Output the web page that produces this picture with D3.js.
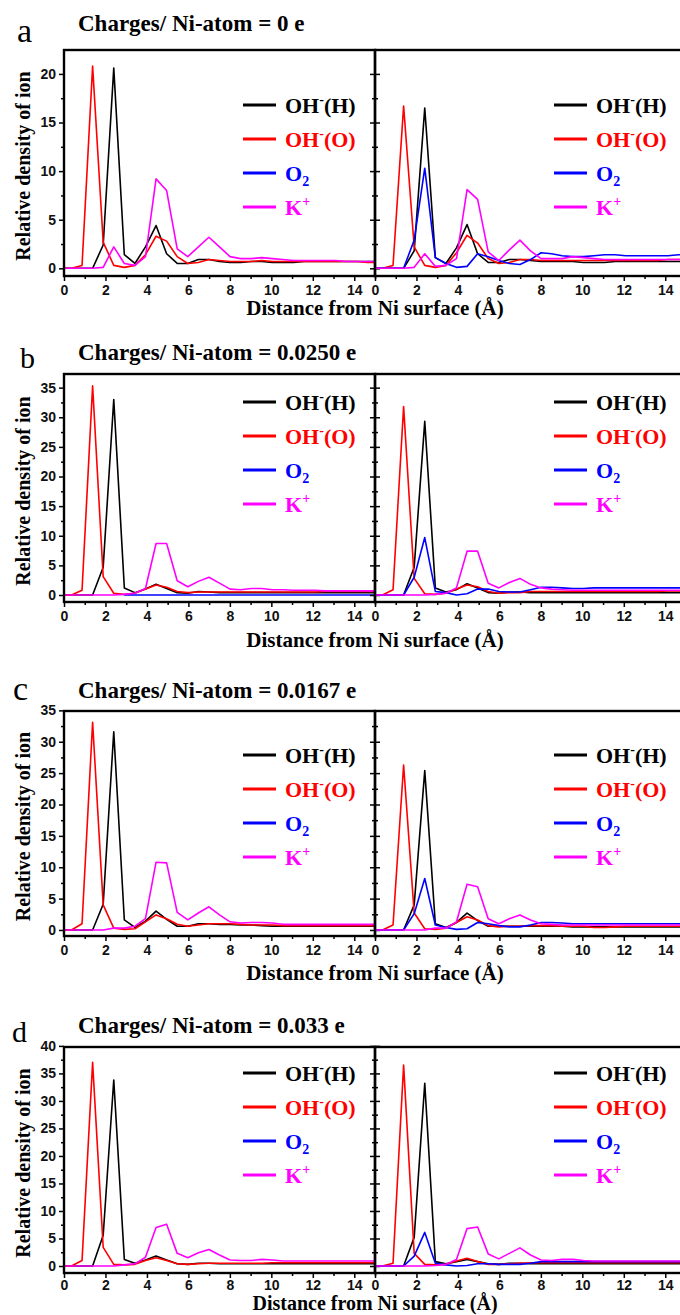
<!DOCTYPE html>
<html>
<head>
<meta charset="utf-8">
<script src="https://cdn.jsdelivr.net/npm/d3@7"></script>
<style>
  body { margin: 0; background: #fff; }
  svg { display: block; }
</style>
</head>
<body>
<svg id="chart" width="680" height="1315"></svg>
<script>
// distance from Ni surface (Å), sample positions of the density profiles
const distance = [0, 0.36, 0.87, 1.38, 1.89, 2.40, 2.91, 3.42, 3.93, 4.44, 4.95, 5.46, 5.97, 6.48, 6.99, 7.50,
  8.01, 8.52, 9.03, 9.54, 10.05, 10.56, 11.07, 11.58, 12.09, 12.60, 13.11, 13.62, 14.13, 14.64, 15.0];

// panel a, charge 0 e
const aL_OHH = [0, 0, 0, 0, 2.4, 20.6, 1.4, 0.5, 2.2, 4.4, 1.5, 0.5, 0.5, 0.9, 0.9, 0.7, 0.6, 0.6, 0.7, 0.7, 0.6, 0.6, 0.6, 0.7, 0.7, 0.7, 0.7, 0.7, 0.7, 0.7, 0.7];
const aL_OHO = [0, 0, 0.3, 20.8, 2.7, 0.3, 0.1, 0.3, 1.4, 3.3, 2.8, 1.2, 0.5, 0.6, 0.9, 0.8, 0.7, 0.7, 0.7, 0.8, 0.7, 0.7, 0.7, 0.7, 0.7, 0.7, 0.7, 0.7, 0.7, 0.6, 0.6];
const aL_K = [0, 0, 0, 0, 0.1, 2.2, 0.5, 0.3, 1.2, 9.2, 8.0, 2.0, 1.2, 2.2, 3.2, 2.2, 1.2, 1.0, 1.0, 1.1, 1.0, 0.9, 0.8, 0.8, 0.8, 0.8, 0.8, 0.7, 0.7, 0.7, 0.7];
const aR_OHH = [0, 0, 0, 0, 1.8, 16.5, 1.1, 0.5, 2.1, 4.5, 1.5, 0.6, 0.6, 0.9, 0.9, 0.8, 0.7, 0.7, 0.7, 0.7, 0.6, 0.6, 0.6, 0.7, 0.7, 0.7, 0.7, 0.7, 0.7, 0.7, 0.7];
const aR_OHO = [0, 0, 0.3, 16.7, 2.2, 0.3, 0.1, 0.3, 1.6, 3.4, 2.6, 1.0, 0.5, 0.6, 0.9, 0.9, 0.8, 0.8, 0.8, 0.8, 0.8, 0.8, 0.8, 0.8, 0.8, 0.8, 0.8, 0.8, 0.9, 0.9, 0.9];
const aR_O2 = [0, 0, 0, 0, 2.9, 10.3, 1.1, 0.5, 0.1, 0.2, 1.5, 1.2, 0.8, 0.5, 0.4, 0.9, 1.6, 1.5, 1.3, 1.2, 1.2, 1.3, 1.4, 1.4, 1.3, 1.3, 1.3, 1.3, 1.3, 1.4, 1.4];
const aR_K = [0, 0, 0, 0, 0.1, 1.5, 0.2, 0.3, 1.0, 8.1, 7.1, 1.7, 0.8, 1.9, 2.9, 1.8, 1.0, 1.0, 1.0, 1.2, 1.1, 1.0, 0.9, 0.9, 0.9, 0.9, 0.9, 0.9, 0.9, 0.9, 0.9];

// panel b, charge 0.0250 e
const bL_OHH = [0, 0, 0, 0, 4.7, 33.0, 1.2, 0.4, 1.0, 1.8, 1.1, 0.4, 0.3, 0.6, 0.5, 0.4, 0.4, 0.4, 0.4, 0.4, 0.4, 0.4, 0.4, 0.4, 0.4, 0.4, 0.4, 0.4, 0.4, 0.4, 0.4];
const bL_OHO = [0, 0, 0.8, 35.3, 3.1, 0.3, 0.1, 0.3, 1.0, 1.7, 1.3, 0.6, 0.4, 0.5, 0.5, 0.5, 0.5, 0.5, 0.5, 0.5, 0.5, 0.5, 0.5, 0.5, 0.5, 0.6, 0.6, 0.6, 0.6, 0.6, 0.6];
const bL_O2 = [null, null, null, null, null, null, 0, 0, 0, 0, 0, 0, 0, 0, 0, 0, 0, 0, 0, 0, 0, 0, 0, 0, 0, 0, 0, 0, 0, 0, 0];
const bL_K = [0, 0, 0, 0, 0, 0, 0.1, 0.3, 1.1, 8.7, 8.7, 2.4, 1.4, 2.3, 3.0, 2.0, 1.0, 0.9, 1.1, 1.1, 0.9, 0.9, 0.8, 0.8, 0.8, 0.7, 0.7, 0.7, 0.7, 0.7, 0.7];
const bR_OHH = [0, 0, 0, 0, 4.7, 29.3, 1.2, 0.5, 0.9, 1.9, 1.2, 0.4, 0.3, 0.5, 0.5, 0.4, 0.4, 0.4, 0.4, 0.4, 0.4, 0.4, 0.4, 0.4, 0.4, 0.4, 0.4, 0.4, 0.4, 0.4, 0.4];
const bR_OHO = [0, 0, 0.9, 31.8, 2.8, 0.2, 0.1, 0.3, 1.0, 1.7, 1.4, 0.6, 0.3, 0.4, 0.4, 0.6, 0.6, 0.6, 0.6, 0.6, 0.6, 0.6, 0.6, 0.6, 0.6, 0.6, 0.6, 0.6, 0.7, 0.7, 0.7];
const bR_O2 = [0, 0, 0, 0, 3.0, 9.7, 0.6, 0.4, 0.0, 0.2, 1.0, 1.0, 0.6, 0.5, 0.5, 0.9, 1.3, 1.3, 1.2, 1.1, 1.1, 1.2, 1.2, 1.2, 1.2, 1.2, 1.2, 1.2, 1.2, 1.2, 1.2];
const bR_K = [0, 0, 0, 0, 0, 0, 0.1, 0.3, 1.2, 7.4, 7.4, 2.0, 1.2, 2.1, 2.8, 1.8, 1.2, 1.0, 0.9, 0.8, 0.8, 0.8, 0.8, 0.8, 0.8, 0.8, 0.8, 0.8, 0.8, 0.8, 0.8];

// panel c, charge 0.0167 e
const cL_OHH = [0, 0, 0, 0, 4.1, 31.6, 1.6, 0.4, 1.4, 3.0, 1.7, 0.6, 0.6, 1.0, 1.0, 0.9, 0.9, 0.8, 0.8, 0.7, 0.6, 0.6, 0.6, 0.6, 0.6, 0.6, 0.6, 0.6, 0.6, 0.6, 0.6];
const cL_OHO = [0, 0, 1.0, 33.1, 4.0, 0.3, 0.1, 0.2, 1.3, 2.4, 1.8, 0.9, 0.6, 0.8, 1.0, 1.0, 1.0, 0.9, 0.8, 0.8, 0.8, 0.7, 0.7, 0.7, 0.7, 0.7, 0.7, 0.7, 0.7, 0.7, 0.7];
const cL_K = [0, 0, 0, 0, 0, 0.3, 0.3, 0.6, 1.8, 10.8, 10.7, 2.8, 1.6, 2.7, 3.7, 2.4, 1.3, 1.1, 1.2, 1.2, 1.1, 0.9, 0.9, 0.9, 0.9, 0.9, 0.9, 0.9, 0.9, 0.9, 0.9];
const cR_OHH = [0, 0, 0, 0, 4.0, 25.4, 1.0, 0.4, 1.2, 2.7, 1.5, 0.6, 0.6, 0.6, 0.6, 0.6, 0.6, 0.6, 0.6, 0.5, 0.5, 0.5, 0.5, 0.5, 0.5, 0.5, 0.5, 0.5, 0.5, 0.5, 0.5];
const cR_OHO = [0, 0, 0.8, 26.3, 2.7, 0.2, 0.1, 0.3, 1.2, 2.1, 1.6, 0.7, 0.5, 0.6, 0.6, 0.7, 0.7, 0.7, 0.6, 0.6, 0.6, 0.4, 0.4, 0.5, 0.6, 0.6, 0.6, 0.6, 0.6, 0.6, 0.6];
const cR_O2 = [0, 0, 0, 0, 2.6, 8.2, 0.8, 0.4, 0.1, 0.2, 1.2, 1.0, 0.7, 0.5, 0.5, 0.8, 1.2, 1.2, 1.1, 1.0, 1.0, 1.0, 1.0, 1.0, 1.0, 1.0, 1.0, 1.0, 1.0, 1.0, 1.0];
const cR_K = [0, 0, 0, 0, 0, 0, 0.3, 0.3, 1.3, 7.3, 6.9, 1.8, 1.0, 1.8, 2.4, 1.6, 1.0, 0.9, 0.8, 0.8, 0.8, 0.8, 0.8, 0.8, 0.8, 0.8, 0.8, 0.8, 0.8, 0.8, 0.8];

// panel d, charge 0.033 e
const dL_OHH = [0, 0, 0, 0, 5.6, 33.8, 1.2, 0.5, 1.1, 1.8, 1.1, 0.4, 0.3, 0.5, 0.5, 0.4, 0.4, 0.4, 0.4, 0.4, 0.4, 0.4, 0.4, 0.4, 0.4, 0.4, 0.4, 0.4, 0.4, 0.4, 0.4];
const dL_OHO = [0, 0, 1.0, 37.0, 3.4, 0.3, 0.2, 0.3, 1.0, 1.5, 1.0, 0.4, 0.3, 0.4, 0.5, 0.5, 0.5, 0.5, 0.5, 0.5, 0.6, 0.6, 0.6, 0.6, 0.6, 0.6, 0.6, 0.6, 0.6, 0.6, 0.6];
const dL_K = [0, 0, 0, 0, 0, 0, 0.2, 0.4, 1.6, 7.0, 7.6, 2.3, 1.5, 2.4, 3.0, 2.0, 1.1, 1.0, 1.0, 1.2, 1.1, 0.9, 0.9, 0.9, 0.9, 0.9, 0.9, 0.9, 0.9, 0.9, 0.9];
const dR_OHH = [0, 0, 0, 0, 5.2, 33.2, 0.8, 0.4, 0.8, 1.2, 0.8, 0.4, 0.3, 0.5, 0.5, 0.4, 0.4, 0.4, 0.4, 0.4, 0.4, 0.4, 0.4, 0.4, 0.4, 0.4, 0.4, 0.4, 0.4, 0.4, 0.4];
const dR_OHO = [0, 0, 0.5, 36.5, 2.3, 0.3, 0.2, 0.3, 0.9, 1.4, 0.8, 0.3, 0.3, 0.4, 0.5, 0.6, 0.6, 0.6, 0.6, 0.6, 0.6, 0.6, 0.6, 0.6, 0.6, 0.6, 0.6, 0.6, 0.6, 0.6, 0.6];
const dR_O2 = [0, 0, 0, 0, 1.8, 6.1, 0.5, 0.2, 0.0, 0.1, 0.4, 0.4, 0.3, 0.3, 0.3, 0.5, 0.8, 0.8, 0.8, 0.8, 0.8, 0.8, 0.8, 0.8, 0.8, 0.8, 0.8, 0.8, 0.8, 0.8, 0.8];
const dR_K = [0, 0, 0, 0, 0, 0, 0.1, 0.3, 1.2, 6.8, 7.1, 2.2, 1.3, 2.3, 3.3, 2.0, 1.1, 1.0, 1.2, 1.2, 1.0, 0.9, 0.9, 0.9, 0.9, 0.9, 0.9, 0.9, 0.9, 0.9, 0.9];

const panelLetters = ["a", "b", "c", "d"];
const panelTitles = ["Charges/ Ni-atom = 0 e", "Charges/ Ni-atom = 0.0250 e",
  "Charges/ Ni-atom = 0.0167 e", "Charges/ Ni-atom = 0.033 e"];
const yMin = [-0.79, -1.18, -0.96, -1.27];
const yMax = [22.46, 37.3, 34.9, 39.8];
const yTickTop = [20, 35, 35, 40];
const xTicks = [0, 2, 4, 6, 8, 10, 12, 14];
const xMinor = [1, 3, 5, 7, 9, 11, 13, 15];

// series order: OH-(H), OH-(O), O2, K+ ; left and right half of each panel
const panelSeries = [
  [[aL_OHH, aL_OHO, null, aL_K], [aR_OHH, aR_OHO, aR_O2, aR_K]],
  [[bL_OHH, bL_OHO, bL_O2, bL_K], [bR_OHH, bR_OHO, bR_O2, bR_K]],
  [[cL_OHH, cL_OHO, null, cL_K], [cR_OHH, cR_OHO, cR_O2, cR_K]],
  [[dL_OHH, dL_OHO, null, dL_K], [dR_OHH, dR_OHO, dR_O2, dR_K]]
];
const seriesColors = ["#000000", "#ff0000", "#0000ff", "#ff00ff"];
// legend labels: [text, kind] pieces
const legendLabels = [
  [["OH", ""], ["-", "sup"], ["(H)", ""]],
  [["OH", ""], ["-", "sup"], ["(O)", ""]],
  [["O", ""], ["2", "sub"]],
  [["K", ""], ["+", "sup"]]
];

// layout
const serif = "'Liberation Serif','Times New Roman',serif";
const sans = "'Liberation Sans',Arial,sans-serif";
const leftX0 = 64, rightX0 = 375, panelW = 311;
const tops = [50, 374, 711, 1047];
const bottoms = [276, 602, 936, 1273];
const letterPos = [[17, 42, 34], [20, 368, 30], [13, 700, 34], [12, 1042, 30]];
const titleBase = [30.5, 360, 698, 1033];
const xTitleBase = [315, 647, 980, 1310];
const xTickPad = [4, 4, 4, 2];
const legendTop = [55, 28, 44, 26];

const svg = d3.select("#chart");
const defs = svg.append("defs");

function styleTicks(g) {
  g.select(".domain").remove();
  g.selectAll(".tick line").attr("stroke", "#000").attr("stroke-width", 1.5);
  g.selectAll(".tick text")
    .attr("fill", "#111")
    .style("font-family", sans)
    .style("font-weight", "bold")
    .style("font-size", "14px");
}

panelSeries.forEach((sides, k) => {
  const top = tops[k], bot = bottoms[k];
  const y = d3.scaleLinear().domain([yMin[k], yMax[k]]).range([bot, top]);
  const majorY = d3.range(0, yTickTop[k] + 0.1, 5);
  const minorY = d3.range(2.5, yMax[k], 5);

  sides.forEach((series, side) => {
    const x0 = side ? rightX0 : leftX0;
    const x = d3.scaleLinear().domain([0, 15]).range([x0, x0 + panelW]);
    const g = svg.append("g");
    const cid = "clip-" + k + "-" + side;
    defs.append("clipPath").attr("id", cid)
      .append("rect").attr("x", x0).attr("y", top).attr("width", panelW).attr("height", bot - top);

    const line = d3.line()
      .defined(d => d[1] != null)
      .x(d => x(d[0]))
      .y(d => y(d[1]));

    series.forEach((vals, s) => {
      if (!vals) return;
      g.append("path")
        .datum(distance.map((d, i) => [d, vals[i]]))
        .attr("clip-path", "url(#" + cid + ")")
        .attr("d", line)
        .attr("fill", "none")
        .attr("stroke", seriesColors[s])
        .attr("stroke-width", 1.6)
        .attr("stroke-linejoin", "round");
    });

    // bottom axis
    const xa = g.append("g").attr("transform", "translate(0," + bot + ")")
      .call(d3.axisBottom(x).tickValues(xTicks).tickSize(5).tickSizeOuter(0).tickPadding(xTickPad[k]));
    styleTicks(xa);
    const xm = g.append("g").attr("transform", "translate(0," + bot + ")")
      .call(d3.axisBottom(x).tickValues(xMinor).tickSize(3).tickSizeOuter(0).tickFormat(""));
    styleTicks(xm);

    // left axis (labels only on the left half)
    const ya = g.append("g").attr("transform", "translate(" + x0 + ",0)")
      .call(d3.axisLeft(y).tickValues(majorY).tickSize(5).tickSizeOuter(0).tickPadding(3)
        .tickFormat(side ? "" : d3.format("d")));
    styleTicks(ya);
    const ym = g.append("g").attr("transform", "translate(" + x0 + ",0)")
      .call(d3.axisLeft(y).tickValues(minorY).tickSize(3).tickSizeOuter(0).tickFormat(""));
    styleTicks(ym);
    if (!side) {
      const yr = g.append("g").attr("transform", "translate(" + (x0 + panelW) + ",0)")
        .call(d3.axisRight(y).tickValues(majorY).tickSize(5).tickSizeOuter(0).tickFormat(""));
      styleTicks(yr);
      const yrm = g.append("g").attr("transform", "translate(" + (x0 + panelW) + ",0)")
        .call(d3.axisRight(y).tickValues(minorY).tickSize(3).tickSizeOuter(0).tickFormat(""));
      styleTicks(yrm);
    }

    // frame
    g.append("rect")
      .attr("x", x0).attr("y", top).attr("width", panelW).attr("height", bot - top)
      .attr("fill", "none").attr("stroke", "#000").attr("stroke-width", 2.4);

    // legend
    const lg = g.append("g");
    legendLabels.forEach((parts, s) => {
      const ly = top + legendTop[k] + s * 34;
      lg.append("line")
        .attr("x1", x0 + 179).attr("x2", x0 + 212)
        .attr("y1", ly).attr("y2", ly)
        .attr("stroke", seriesColors[s]).attr("stroke-width", 3.2);
      const t = lg.append("text")
        .attr("x", x0 + 221).attr("y", ly + 8)
        .attr("fill", seriesColors[s])
        .style("font-family", serif).style("font-weight", "bold").style("font-size", "22px");
      let shift = 0;
      parts.forEach(([txt, kind]) => {
        const target = kind === "sup" ? -9 : kind === "sub" ? 5 : 0;
        t.append("tspan")
          .attr("dy", target - shift)
          .style("font-size", kind ? "14px" : "22px")
          .text(txt);
        shift = target;
      });
    });
  });

  // panel letter, title, axis titles
  svg.append("text")
    .attr("x", letterPos[k][0]).attr("y", letterPos[k][1])
    .style("font-family", serif).style("font-size", letterPos[k][2] + "px")
    .text(panelLetters[k]);
  svg.append("text")
    .attr("x", 78).attr("y", titleBase[k])
    .style("font-family", serif).style("font-weight", "bold").style("font-size", "23px")
    .text(panelTitles[k]);
  svg.append("text")
    .attr("transform", "translate(23," + ((top + bot) / 2 + 3) + ") rotate(-90)")
    .attr("text-anchor", "middle").attr("dominant-baseline", "central")
    .style("font-family", serif).style("font-weight", "bold").style("font-size", "20px")
    .text("Relative density of ion");
  svg.append("text")
    .attr("x", rightX0).attr("y", xTitleBase[k])
    .attr("text-anchor", "middle")
    .style("font-family", serif).style("font-weight", "bold").style("font-size", k === 3 ? "20px" : "21px")
    .text("Distance from Ni surface (Å)");
});
</script>
</body>
</html>
